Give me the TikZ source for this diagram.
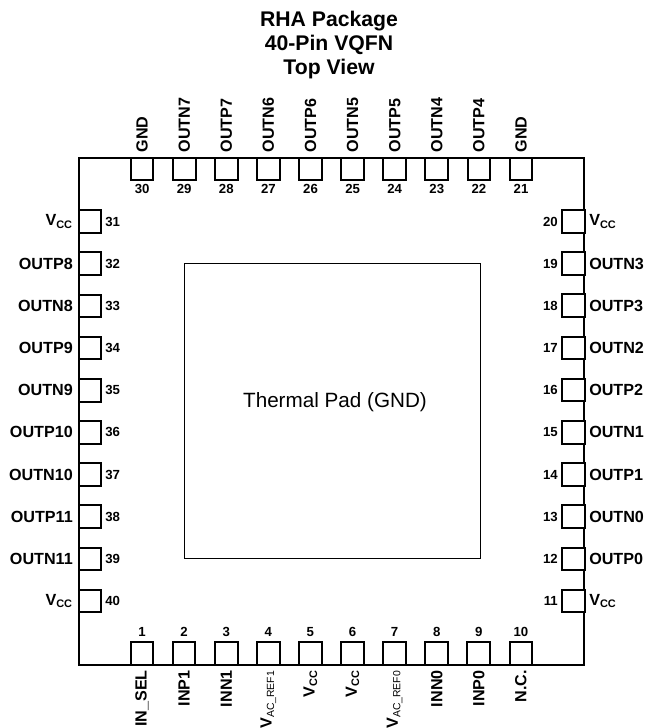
\documentclass[tikz,border=0pt]{standalone}
\usepackage{fontspec}
\setmainfont{Liberation Sans}
\newcommand{\subV}[1]{V\textsubscript{\fontsize{8.2}{8}\selectfont #1}}
\newcommand{\subVref}[1]{V\textsubscript{\fontsize{7.8}{8}\selectfont\mdseries #1}}
\tikzset{
  pad/.style={draw,line width=1.5pt,fill=white,minimum size=17pt,inner sep=0pt},
  pinlabel/.style={font=\fontsize{12.1}{13}\selectfont\bfseries,inner sep=0pt},
  pinnum/.style={font=\fontsize{9.9}{10}\selectfont\bfseries,inner sep=0pt},
}
\begin{document}
\begin{tikzpicture}[x=0.75pt,y=-0.75pt]
\useasboundingbox (0,0) rectangle (644,728);
\node[font=\fontsize{15.9}{18}\selectfont\bfseries,align=center,inner sep=0pt] (title) at (329,45) {RHA Package\\40-Pin VQFN\\Top View};
\node[draw,line width=1.5pt,minimum width=379pt,minimum height=380pt,inner sep=0pt] (body) at (331.8,411.3) {};
\node[draw,line width=.75pt,minimum width=222pt,minimum height=221pt,inner sep=0pt] (thermal) at (332,411) {};
\node[font=\fontsize{15.5}{17}\selectfont,inner sep=0pt] (thermaltext) at (335,402) {Thermal Pad (GND)};
% bottom row
\foreach \t [count=\i] in {IN\_SEL,INP1,INN1,\subVref{AC\_REF1},\subV{CC},\subV{CC},\subVref{AC\_REF0},INN0,INP0,N.C.}
{
  \node[pad] (pin\i) at ({142+42.1*(\i-1)},653.5) {};
  \node[pinnum] (num\i) at ({142+42.1*(\i-1)},632) {\i};
  \node[pinlabel,rotate=90,anchor=east] (lab\i) at ({142+42.1*(\i-1)},670) {\t};
}
% right column
\foreach \t [count=\i from 11] in {\subV{CC},OUTP0,OUTN0,OUTP1,OUTN1,OUTP2,OUTN2,OUTP3,OUTN3,\subV{CC}}
{
  \node[pad] (pin\i) at (573.5,{601-42.17*(\i-11)}) {};
  \node[pinnum,anchor=east] (num\i) at (558,{601-42.17*(\i-11)}) {\i};
  \node[pinlabel,anchor=west] (lab\i) at (589,{601-42.17*(\i-11)}) {\t};
}
% top row
\foreach \t [count=\i from 21] in {GND,OUTP4,OUTN4,OUTP5,OUTN5,OUTP6,OUTN6,OUTP7,OUTN7,GND}
{
  \node[pad] (pin\i) at ({521-42.1*(\i-21)},169) {};
  \node[pinnum] (num\i) at ({521-42.1*(\i-21)},189) {\i};
  \node[pinlabel,rotate=90,anchor=west] (lab\i) at ({521-42.1*(\i-21)},152.5) {\t};
}
% left column
\foreach \t [count=\i from 31] in {\subV{CC},OUTP8,OUTN8,OUTP9,OUTN9,OUTP10,OUTN10,OUTP11,OUTN11,\subV{CC}}
{
  \node[pad] (pin\i) at (90,{221.5+42.17*(\i-31)}) {};
  \node[pinnum,anchor=west] (num\i) at (105,{221.5+42.17*(\i-31)}) {\i};
  \node[pinlabel,anchor=east] (lab\i) at (73,{221.5+42.17*(\i-31)}) {\t};
}
\end{tikzpicture}
\end{document}
